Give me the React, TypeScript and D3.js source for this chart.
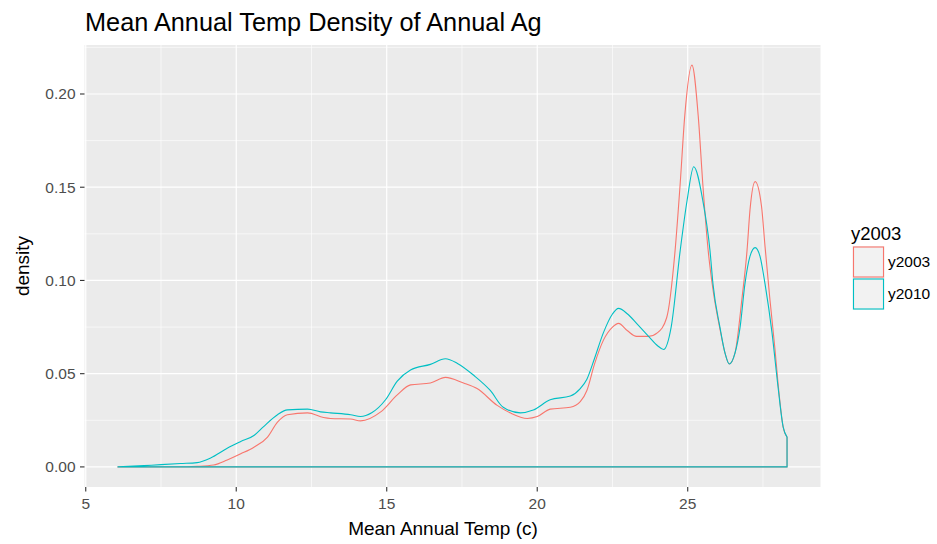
import React from "react";
import * as d3 from "d3";

// Kernel density of mean annual temperature (°C) for annual agriculture cells
const temp2003 = [6.07, 8.0, 8.7, 9.25, 9.7, 10.15, 10.6, 11.04, 11.37, 11.7, 12.37, 12.9, 13.13, 13.8, 14.13, 14.8, 15.35, 15.79, 16.45, 16.95, 17.55, 18.0, 18.67, 19.1, 19.67, 20.0, 20.43, 21.1, 21.43, 21.65, 21.9, 22.2, 22.5, 22.7, 23.0, 23.3, 23.7, 24.0, 24.3, 24.58, 24.75, 24.9, 25.14, 25.35, 25.5, 25.68, 25.84, 26.07, 26.24, 26.38, 26.57, 26.8, 26.97, 27.07, 27.24, 27.45, 27.57, 27.73, 27.9, 28.0, 28.17, 28.3];
const dens2003 = [0, 0, 0.0003, 0.001, 0.0037, 0.007, 0.0107, 0.016, 0.024, 0.028, 0.029, 0.0265, 0.026, 0.0257, 0.0247, 0.0295, 0.0386, 0.044, 0.045, 0.048, 0.045, 0.042, 0.033, 0.029, 0.026, 0.027, 0.031, 0.032, 0.035, 0.041, 0.055, 0.068, 0.075, 0.077, 0.073, 0.070, 0.070, 0.072, 0.080, 0.116, 0.152, 0.188, 0.2155, 0.188, 0.152, 0.116, 0.095, 0.074, 0.061, 0.0552, 0.061, 0.090, 0.116, 0.138, 0.153, 0.14, 0.118, 0.09, 0.063, 0.045, 0.0215, 0.016];

const temp2010 = [6.07, 6.93, 7.5, 8.15, 8.7, 9.15, 9.7, 10.15, 10.6, 10.9, 11.37, 11.7, 12.37, 12.8, 13.13, 13.8, 14.13, 14.5, 14.96, 15.35, 15.79, 16.45, 16.95, 17.35, 17.9, 18.44, 18.87, 19.44, 19.87, 20.43, 21.1, 21.43, 21.65, 21.9, 22.2, 22.5, 22.7, 23.0, 23.3, 23.7, 24.0, 24.2, 24.45, 24.75, 24.98, 25.2, 25.5, 25.74, 25.84, 26.07, 26.24, 26.38, 26.57, 26.74, 26.9, 27.07, 27.24, 27.4, 27.57, 27.8, 28.0, 28.17, 28.3];
const dens2010 = [0, 0.0007, 0.0012, 0.0018, 0.0023, 0.0048, 0.010, 0.0136, 0.017, 0.0215, 0.028, 0.0306, 0.031, 0.0295, 0.029, 0.028, 0.027, 0.029, 0.036, 0.046, 0.052, 0.055, 0.058, 0.0555, 0.049, 0.041, 0.032, 0.029, 0.0305, 0.036, 0.038, 0.042, 0.047, 0.058, 0.072, 0.082, 0.085, 0.082, 0.077, 0.070, 0.065, 0.063, 0.075, 0.116, 0.143, 0.161, 0.143, 0.116, 0.098, 0.075, 0.061, 0.0552, 0.061, 0.075, 0.098, 0.113, 0.1176, 0.113, 0.098, 0.072, 0.043, 0.0215, 0.016];

const seriesNames = ["y2003", "y2010"];
const seriesColors = ["#F8766D", "#00BFC4"];

const xTicks = [5, 10, 15, 20, 25];
const xMinor = [7.5, 12.5, 17.5, 22.5, 27.5];
const yTicks = [0, 0.05, 0.1, 0.15, 0.2];
const yMinor = [0.025, 0.075, 0.125, 0.175, 0.225];

const W = 937;
const H = 544;
const panel = { left: 84.5, right: 820.5, top: 45, bottom: 487 };
const FONT = "'Liberation Sans', Arial, Helvetica, sans-serif";

export default function App() {
  const allX = [...temp2003, ...temp2010];
  const allY = [...dens2003, ...dens2010];
  const [xLo, xHi] = d3.extent(allX) as [number, number];
  const yHi = d3.max(allY) as number;
  const xPad = (xHi - xLo) * 0.05;
  const yPad = yHi * 0.05;

  const x = d3.scaleLinear().domain([xLo - xPad, xHi + xPad]).range([panel.left, panel.right]);
  const y = d3.scaleLinear().domain([-yPad, yHi + yPad]).range([panel.bottom, panel.top]);

  const series = [
    { name: seriesNames[0], color: seriesColors[0], t: temp2003, d: dens2003 },
    { name: seriesNames[1], color: seriesColors[1], t: temp2010, d: dens2010 },
  ];

  const line = d3
    .line<[number, number]>()
    .x((p) => x(p[0]))
    .y((p) => y(p[1]))
    .curve(d3.curveMonotoneX);

  // density outline closed along the baseline, as geom_density draws it
  const outline = (t: number[], d: number[]) => {
    const pts = t.map((v, i) => [v, d[i]] as [number, number]);
    const top = line(pts) as string;
    return `${top}L${x(t[t.length - 1])},${y(0)}L${x(t[0])},${y(0)}Z`;
  };

  return (
    <svg
      width={W}
      height={H}
      style={{ position: "absolute", left: 0, top: 0, background: "#fff" }}
      fontFamily={FONT}
    >
      <rect x={0} y={0} width={W} height={H} fill="#fff" />
      <text x={panel.left + 0.5} y={31} fontSize={25.3} fill="#000">
        Mean Annual Temp Density of Annual Ag
      </text>

      <rect
        x={panel.left}
        y={panel.top}
        width={panel.right - panel.left}
        height={panel.bottom - panel.top}
        fill="#EBEBEB"
      />
      {yMinor.map((v) => (
        <line key={"ym" + v} x1={panel.left} x2={panel.right} y1={y(v)} y2={y(v)} stroke="#fff" strokeWidth={0.6} />
      ))}
      {xMinor.map((v) => (
        <line key={"xm" + v} x1={x(v)} x2={x(v)} y1={panel.top} y2={panel.bottom} stroke="#fff" strokeWidth={0.6} />
      ))}
      {yTicks.map((v) => (
        <line key={"yg" + v} x1={panel.left} x2={panel.right} y1={y(v)} y2={y(v)} stroke="#fff" strokeWidth={1.2} />
      ))}
      {xTicks.map((v) => (
        <line key={"xg" + v} x1={x(v)} x2={x(v)} y1={panel.top} y2={panel.bottom} stroke="#fff" strokeWidth={1.2} />
      ))}

      {series.map((s) => (
        <path key={s.name} d={outline(s.t, s.d)} fill="none" stroke={s.color} strokeWidth={1.1} strokeLinejoin="round" />
      ))}

      {yTicks.map((v) => (
        <g key={"yt" + v}>
          <line x1={panel.left - 4.5} x2={panel.left} y1={y(v)} y2={y(v)} stroke="#333" strokeWidth={1.1} />
          <text x={panel.left - 9} y={y(v)} dy="0.35em" textAnchor="end" fontSize={15.5} fill="#4D4D4D">
            {d3.format(".2f")(v)}
          </text>
        </g>
      ))}
      {xTicks.map((v) => (
        <g key={"xt" + v}>
          <line x1={x(v)} x2={x(v)} y1={panel.bottom} y2={panel.bottom + 4.5} stroke="#333" strokeWidth={1.1} />
          <text x={x(v)} y={509} textAnchor="middle" fontSize={15.5} fill="#4D4D4D">
            {v}
          </text>
        </g>
      ))}

      <text x={443} y={535} textAnchor="middle" fontSize={19} fill="#000">
        Mean Annual Temp (c)
      </text>
      <text
        transform={`translate(29,${(panel.top + panel.bottom) / 2}) rotate(-90)`}
        textAnchor="middle"
        fontSize={19}
        fill="#000"
      >
        density
      </text>

      <text x={851} y={240} fontSize={18.5} fill="#000">
        {seriesNames[0]}
      </text>
      {series.map((s, i) => {
        const ky = 246 + i * 32;
        return (
          <g key={"lg" + s.name}>
            <rect x={852.5} y={ky} width={32} height={32} fill="#F2F2F2" />
            <rect x={853.5} y={ky + 1} width={30} height={30} fill="none" stroke={s.color} strokeWidth={1.1} />
            <text x={888} y={ky + 16} dy="0.35em" fontSize={15.5} fill="#000">
              {s.name}
            </text>
          </g>
        );
      })}
    </svg>
  );
}
